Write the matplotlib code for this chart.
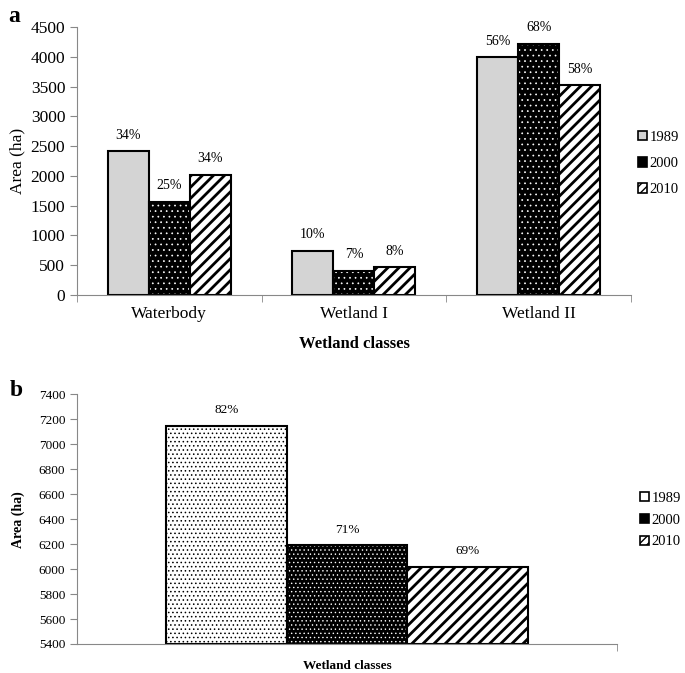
import numpy as np
import matplotlib.pyplot as plt
from matplotlib.patches import Patch

plt.rcParams['font.family'] = ['Liberation Serif', 'DejaVu Serif']

# panel a data
classes = ['Waterbody', 'Wetland I', 'Wetland II']
years = ['1989', '2000', '2010']
area_1989 = [2410, 740, 3990]
area_2000 = [1560, 400, 4220]
area_2010 = [2020, 465, 3520]
pct_1989 = ['34%', '10%', '56%']
pct_2000 = ['25%', '7%', '68%']
pct_2010 = ['34%', '8%', '58%']

# panel b data (total wetland)
total_area = [7150, 6190, 6020]
total_pct = ['82%', '71%', '69%']


def hbar(ax, hlw, *args, **kw):
    # hatch line width is picked up when the patch is made
    with plt.rc_context({'hatch.linewidth': hlw}):
        return ax.bar(*args, **kw)


def hpatch(hlw, **kw):
    with plt.rc_context({'hatch.linewidth': hlw}):
        return Patch(**kw)


fig = plt.figure(figsize=(6.85, 6.73), dpi=100)

# ---------- panel a ----------
ax1 = fig.add_axes([0.1124, 0.5617, 0.8086, 0.3982])
x = np.arange(len(classes))
w = 0.222
areas = [area_1989, area_2000, area_2010]
pcts = [pct_1989, pct_2000, pct_2010]
for i in range(3):
    xs = x + (i - 1) * w
    if i == 0:
        ax1.bar(xs, areas[i], w, color='#d4d4d4', edgecolor='black', linewidth=1.5)
    elif i == 1:
        hbar(ax1, 0.5, xs, areas[i], w, color='black', edgecolor='white', hatch='...', linewidth=0)
        ax1.bar(xs, areas[i], w, fill=False, edgecolor='black', linewidth=1.5)
    else:
        hbar(ax1, 2.0, xs, areas[i], w, color='white', edgecolor='black', hatch='///', linewidth=1.5)
    for xi, v, p in zip(xs, areas[i], pcts[i]):
        ax1.annotate(p, (xi, v), xytext=(0, 7), textcoords='offset points',
                     ha='center', va='bottom', fontsize=10)

ax1.set_xlim(-0.5, 2.5)
ax1.set_ylim(0, 4500)
ax1.set_yticks(np.arange(0, 4501, 500))
ax1.set_xticks(x)
ax1.set_xticklabels(classes, fontsize=12.5)
ax1.set_xticks([-0.5, 0.5, 1.5, 2.5], minor=True)
ax1.tick_params(axis='x', which='major', length=0, pad=8)
ax1.tick_params(axis='x', which='minor', length=5, color='#888888')
ax1.tick_params(axis='y', labelsize=12.5, length=5, color='#888888')
ax1.set_ylabel('Area (ha)', fontsize=12.5, labelpad=4)
ax1.set_xlabel('Wetland classes', fontsize=12, fontweight='bold', labelpad=10)
for s in ['top', 'right']:
    ax1.spines[s].set_visible(False)
for s in ['left', 'bottom']:
    ax1.spines[s].set_color('#888888')

h1 = [Patch(facecolor='#d4d4d4', edgecolor='black', linewidth=1.2),
      hpatch(0.8, facecolor='black', edgecolor='black', linewidth=1.2),
      hpatch(1.5, facecolor='white', edgecolor='black', hatch='////', linewidth=1.2)]
fig.legend(h1, years, loc='center left', bbox_to_anchor=(0.932, 0.757),
           frameon=False, fontsize=10.5, handlelength=0.6, handleheight=0.6,
           handletextpad=0.15, labelspacing=0.9, borderpad=0, borderaxespad=0)

fig.text(0.012, 0.976, 'a', fontsize=17, fontweight='bold', va='center')

# ---------- panel b ----------
ax2 = fig.add_axes([0.1124, 0.0431, 0.7883, 0.371])
wb = 0.2235
xb = np.array([-wb, 0, wb])
hbar(ax2, 0.6, xb[0], total_area[0] - 5400, wb, bottom=5400, color='white',
     edgecolor='black', hatch='....', linewidth=1.5)
hbar(ax2, 0.5, xb[1], total_area[1] - 5400, wb, bottom=5400, color='black',
     edgecolor='white', hatch='....', linewidth=0)
ax2.bar(xb[1], total_area[1] - 5400, wb, bottom=5400, fill=False,
        edgecolor='black', linewidth=1.5)
hbar(ax2, 2.0, xb[2], total_area[2] - 5400, wb, bottom=5400, color='white',
     edgecolor='black', hatch='///', linewidth=1.5)
for xi, v, p in zip(xb, total_area, total_pct):
    ax2.annotate(p, (xi, v), xytext=(0, 7), textcoords='offset points',
                 ha='center', va='bottom', fontsize=9.5)

ax2.set_xlim(-0.5, 0.5)
ax2.set_ylim(5400, 7400)
ax2.set_yticks(np.arange(5400, 7401, 200))
ax2.set_xticks([])
ax2.set_xticks([0.5], minor=True)
ax2.tick_params(axis='x', which='minor', length=5, color='#888888')
ax2.tick_params(axis='y', labelsize=9.5, length=5, color='#888888')
ax2.set_ylabel('Area (ha)', fontsize=10, fontweight='bold', labelpad=10)
ax2.set_xlabel('Wetland classes', fontsize=9.5, fontweight='bold', labelpad=3)
for s in ['top', 'right']:
    ax2.spines[s].set_visible(False)
for s in ['left', 'bottom']:
    ax2.spines[s].set_color('#888888')

h2 = [hpatch(0.6, facecolor='white', edgecolor='black', linewidth=1.2),
      hpatch(0.6, facecolor='black', edgecolor='black', linewidth=1.2),
      hpatch(1.5, facecolor='white', edgecolor='black', hatch='////', linewidth=1.2)]
fig.legend(h2, years, loc='center left', bbox_to_anchor=(0.935, 0.227),
           frameon=False, fontsize=10.5, handlelength=0.6, handleheight=0.6,
           handletextpad=0.15, labelspacing=0.6, borderpad=0, borderaxespad=0)

fig.text(0.014, 0.42, 'b', fontsize=17, fontweight='bold', va='center')

fig.savefig('out.png', dpi=100)
